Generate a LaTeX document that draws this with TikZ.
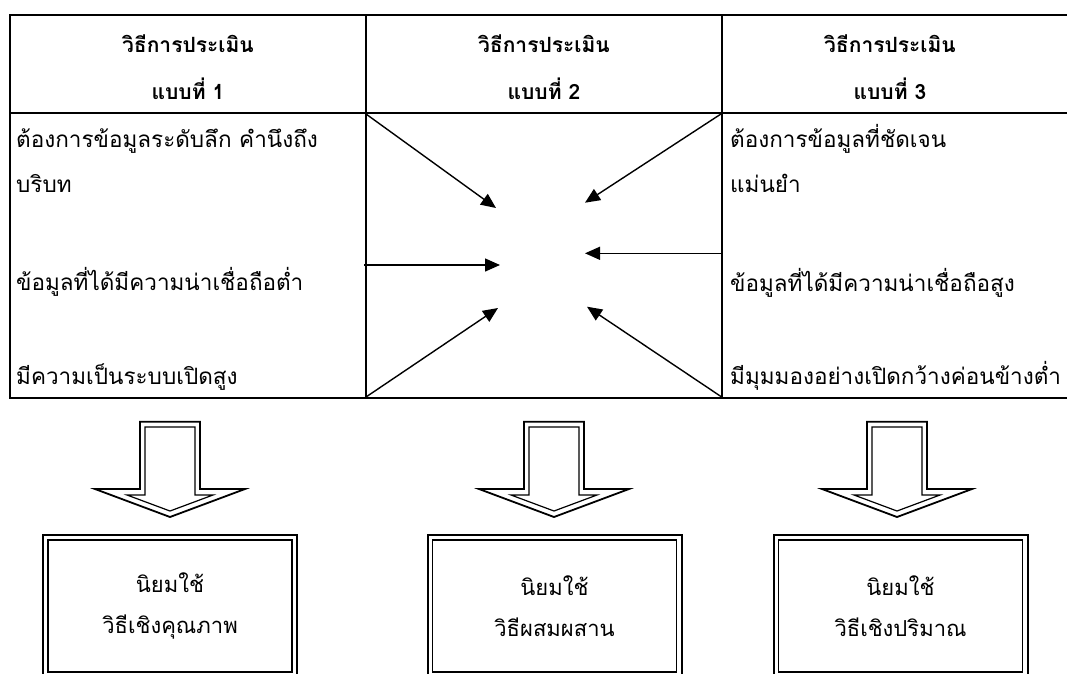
\documentclass[tikz,border=0pt]{standalone}
\usepackage{fontspec}
\setmainfont[Script=Thai]{Loma}
\usetikzlibrary{arrows.meta}
\begin{document}
\begin{tikzpicture}[x=1pt,y=-1pt,
  grid/.style={line width=2pt},
  headtext/.style={font=\fontsize{21}{21}\selectfont\bfseries, anchor=base, inner sep=0pt},
  bodytext/.style={font=\fontsize{22.5}{22.5}\selectfont, anchor=base west, inner sep=0pt},
  conv/.style={line width=1.4pt, -{Triangle[length=15pt,width=13pt]}},
  outerline/.style={line width=1.8pt, line join=miter},
  innerline/.style={line width=1.2pt, line join=miter},
  resbox/.style={draw, line width=2pt, minimum width=254pt, minimum height=142pt,
    align=center, inner sep=0pt, font=\fontsize{22}{41}\selectfont}
]
\useasboundingbox (0,0) rectangle (1067,673);

% table grid
\draw[grid] (10,15) rectangle (1072,398);
\draw[grid] (10,112.5) -- (1072,112.5);
\draw[grid] (366,15) -- (366,398);
\draw[grid] (721.7,15) -- (721.7,398);

% headers
\node[headtext] (h1a) at (188,52) {วิธีการประเมิน};
\node[headtext] (h1b) at (188,99) {แบบที่ 1};
\node[headtext] (h2a) at (544,52) {วิธีการประเมิน};
\node[headtext] (h2b) at (544,99) {แบบที่ 2};
\node[headtext] (h3a) at (890,52) {วิธีการประเมิน};
\node[headtext] (h3b) at (890,99) {แบบที่ 3};

% left column
\node[bodytext] (l1) at (16,147) {ต้องการข้อมูลระดับลึก คำนึงถึง};
\node[bodytext] (l2) at (16,192) {บริบท};
\node[bodytext] (l3) at (16,290) {ข้อมูลที่ได้มีความน่าเชื่อถือต่ำ};
\node[bodytext] (l4) at (16,384) {มีความเป็นระบบเปิดสูง};

% right column
\node[bodytext] (r1) at (730,147) {ต้องการข้อมูลที่ชัดเจน};
\node[bodytext] (r2) at (730,192) {แม่นยำ};
\node[bodytext] (r3) at (730,291) {ข้อมูลที่ได้มีความน่าเชื่อถือสูง};
\node[bodytext] (r4) at (730,384) {มีมุมมองอย่างเปิดกว้างค่อนข้างต่ำ};

% converging arrows
\coordinate (s1) at (366,114);
\coordinate (e1) at (496,208);
\coordinate (s2) at (721.7,113.5);
\coordinate (e2) at (585,202.7);
\coordinate (s3) at (364,265);
\coordinate (e3) at (500,265);
\coordinate (s4) at (721.7,253.3);
\coordinate (e4) at (585,253.3);
\coordinate (s5) at (366,397);
\coordinate (e5) at (498,308);
\coordinate (s6) at (721.7,397);
\coordinate (e6) at (587,306.7);
\draw[conv] (s1) -- (e1);
\draw[conv] (s2) -- (e2);
\draw[conv] (s3) -- (e3);
\draw[conv] (s4) -- (e4);
\draw[conv] (s5) -- (e5);
\draw[conv] (s6) -- (e6);

% block arrows
\foreach \cx in {170,554,897}{
  \draw[outerline] (\cx-30,421.7) -- (\cx+30,421.7) -- (\cx+30,489) -- (\cx+75,489)
     -- (\cx,517) -- (\cx-75,489) -- (\cx-30,489) -- cycle;
  \draw[innerline] (\cx-25,427) -- (\cx+25,427) -- (\cx+25,495) -- (\cx+43,495)
     -- (\cx,511) -- (\cx-43,495) -- (\cx-25,495) -- cycle;
}

% result boxes
\node[resbox] (b1) at (170,606) {นิยมใช้\\วิธีเชิงคุณภาพ};
\node[resbox] (b2) at (554.5,606) {นิยมใช้\\วิธีผสมผสาน};
\node[resbox] (b3) at (900.5,606) {นิยมใช้\\วิธีเชิงปริมาณ};
\foreach \b in {b1,b2,b3}{
  \draw[innerline] ([shift={(6,6)}]\b.north west) rectangle ([shift={(-6,-6)}]\b.south east);
}
\end{tikzpicture}
\end{document}
